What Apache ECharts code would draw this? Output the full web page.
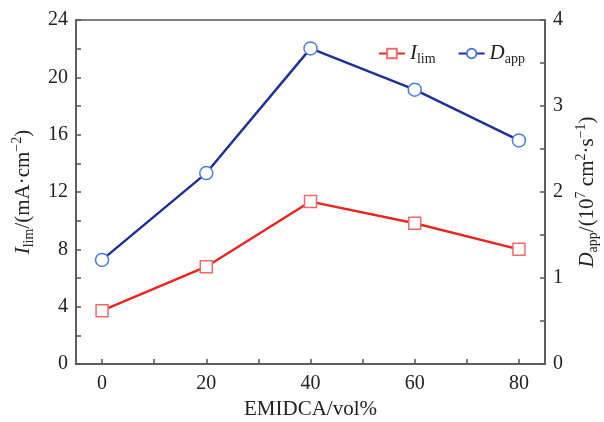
<!DOCTYPE html>
<html>
<head>
<meta charset="utf-8">
<script src="https://cdn.jsdelivr.net/npm/echarts@6/dist/echarts.min.js"></script>
<style>
  html, body { margin: 0; padding: 0; background: #fff; }
  #chart { width: 604px; height: 422px; }
</style>
</head>
<body>
<div id="chart"></div>
<script>
// EMIDCA content (vol%) and measured quantities
const emidca = [0, 20, 40, 60, 80];
const iLim = [3.72, 6.79, 11.33, 9.82, 8.0];      // mA·cm^-2 (left axis)
const dApp = [1.21, 2.22, 3.67, 3.19, 2.60];      // 10^7 cm^2·s^-1 (right axis)

const xTicks = [0, 10, 20, 30, 40, 50, 60, 70, 80];
const xLabels = [0, 20, 40, 60, 80];
const leftLabels = [0, 4, 8, 12, 16, 20, 24];
const rightLabels = [0, 1, 2, 3, 4];

const FONT = '"Liberation Serif", "DejaVu Serif", serif';
const AXIS_COLOR = '#555';
const RED = '#e8261f', RED_MARK = '#ee6b6b';
const BLUE = '#1f2e99', BLUE_MARK = '#4a7fd6';

const chart = echarts.init(document.getElementById('chart'));

const richName = {
  n: { fontFamily: FONT, fontSize: 21, color: '#222', lineHeight: 26, verticalAlign: 'middle' },
  i: { fontFamily: FONT, fontSize: 21, color: '#222', fontStyle: 'italic', lineHeight: 26, verticalAlign: 'middle' },
  sub: { fontFamily: FONT, fontSize: 14, color: '#222', lineHeight: 26, verticalAlign: 'bottom' },
  sup: { fontFamily: FONT, fontSize: 14, color: '#222', lineHeight: 26, verticalAlign: 'top' }
};

const axisCommon = {
  axisLine: { show: true, onZero: false, lineStyle: { color: AXIS_COLOR, width: 1.5 } },
  axisTick: { show: true, inside: true, length: 5, lineStyle: { color: AXIS_COLOR, width: 1.5 } },
  splitLine: { show: false },
  axisLabel: { fontFamily: FONT, fontSize: 20, color: '#222' }
};

chart.setOption({
  animation: false,
  backgroundColor: '#fff',
  grid: {
    left: 76, right: 59, top: 20, bottom: 58,
    outerBoundsMode: 'none', containLabel: false,
    show: true, borderColor: AXIS_COLOR, borderWidth: 1.5
  },
  legend: {
    top: 38, right: 74,
    itemWidth: 26, itemHeight: 12, itemGap: 22,
    data: ['I_lim', 'D_app'],
    formatter: function (name) {
      return name === 'I_lim' ? '{i|I}{sub|lim}' : '{i|D}{sub|app}';
    },
    textStyle: { rich: richName }
  },
  xAxis: {
    type: 'value', min: -5, max: 85,
    name: 'EMIDCA/vol%', nameLocation: 'middle', nameGap: 34,
    nameTextStyle: { fontFamily: FONT, fontSize: 21, color: '#222' },
    ...axisCommon,
    axisTick: { ...axisCommon.axisTick, customValues: xTicks },
    axisLabel: { ...axisCommon.axisLabel, margin: 10, customValues: xLabels }
  },
  yAxis: [
    {
      type: 'value', min: 0, max: 24, interval: 2,
      name: '{i|I}{sub|lim}{n|/(mA·cm}{sup|−2}{n|)}',
      nameLocation: 'middle', nameGap: 40, nameRotate: 90,
      nameTextStyle: { rich: richName },
      ...axisCommon,
      axisLabel: { ...axisCommon.axisLabel, margin: 8, customValues: leftLabels }
    },
    {
      type: 'value', min: 0, max: 4, interval: 0.5, position: 'right',
      name: '{i|D}{sub|app}{n|/(10}{sup|7}{n| cm}{sup|2}{n|·s}{sup|−1}{n|)}',
      nameLocation: 'middle', nameGap: 29, nameRotate: 90,
      nameTextStyle: { rich: richName },
      ...axisCommon,
      axisLabel: { ...axisCommon.axisLabel, margin: 8, customValues: rightLabels }
    }
  ],
  series: [
    {
      name: 'I_lim', type: 'line', yAxisIndex: 0,
      data: emidca.map((x, k) => [x, iLim[k]]),
      symbol: 'rect', symbolSize: 12,
      lineStyle: { color: RED, width: 2.4 },
      itemStyle: { color: '#fff', borderColor: RED_MARK, borderWidth: 1.5 }
    },
    {
      name: 'D_app', type: 'line', yAxisIndex: 1,
      data: emidca.map((x, k) => [x, dApp[k]]),
      symbol: 'circle', symbolSize: 13,
      lineStyle: { color: BLUE, width: 2.4 },
      itemStyle: { color: '#fff', borderColor: BLUE_MARK, borderWidth: 1.5 }
    }
  ]
});
</script>
</body>
</html>
